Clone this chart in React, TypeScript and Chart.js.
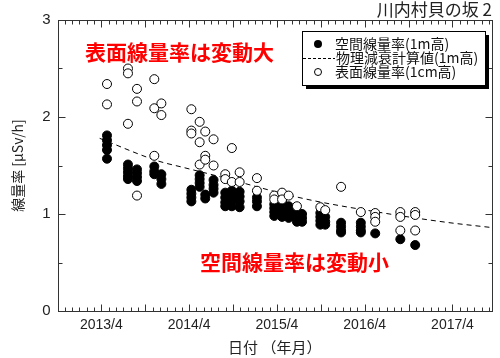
import React, { useEffect, useRef } from 'react';
import { Chart, registerables } from 'chart.js';

Chart.register(...registerables);

// ---- data ----
const airDates = [
  '2013-04-24', '2013-04-24', '2013-04-24', '2013-04-24', '2013-04-24',
  '2013-07-20', '2013-07-20', '2013-07-20', '2013-07-20', '2013-07-20',
  '2013-08-27', '2013-08-27', '2013-08-27', '2013-08-27',
  '2013-11-08', '2013-11-08', '2013-11-08',
  '2013-12-07', '2013-12-07', '2013-12-07',
  '2014-04-10', '2014-04-10', '2014-04-10', '2014-04-10',
  '2014-05-14', '2014-05-14', '2014-05-14', '2014-05-14',
  '2014-06-07', '2014-06-07',
  '2014-07-11', '2014-07-11', '2014-07-11', '2014-07-11',
  '2014-08-29', '2014-08-29', '2014-08-29', '2014-08-29',
  '2014-09-26', '2014-09-26', '2014-09-26', '2014-09-26',
  '2014-10-28', '2014-10-28', '2014-10-28', '2014-10-28',
  '2015-01-09', '2015-01-09', '2015-01-09',
  '2015-03-20', '2015-03-20', '2015-03-20', '2015-03-20',
  '2015-04-22', '2015-04-22', '2015-04-22', '2015-04-22', '2015-04-22',
  '2015-05-19', '2015-05-19', '2015-05-19', '2015-05-19',
  '2015-06-23', '2015-06-23', '2015-06-23', '2015-06-23',
  '2015-07-14', '2015-07-14', '2015-07-14',
  '2015-09-29', '2015-09-29', '2015-09-29', '2015-09-29',
  '2015-10-19', '2015-10-19', '2015-10-19',
  '2015-12-24', '2015-12-24', '2015-12-24', '2015-12-24',
  '2016-03-15', '2016-03-15', '2016-03-15', '2016-03-15',
  '2016-05-14',
  '2016-08-27',
  '2016-10-28',
];
const airValues = [
  1.81, 1.76, 1.71, 1.66, 1.57,
  1.51, 1.47, 1.43, 1.39, 1.36,
  1.46, 1.42, 1.38, 1.34,
  1.49, 1.44, 1.41,
  1.41, 1.36, 1.31,
  1.25, 1.21, 1.17, 1.13,
  1.40, 1.36, 1.32, 1.28,
  1.20, 1.16,
  1.35, 1.30, 1.26, 1.22,
  1.22, 1.17, 1.12, 1.08,
  1.24, 1.19, 1.14, 1.08,
  1.23, 1.18, 1.13, 1.07,
  1.17, 1.13, 1.08,
  1.10, 1.06, 1.02, 0.98,
  1.12, 1.08, 1.04, 1.0, 0.97,
  1.08, 1.04, 1.0, 0.96,
  1.03, 0.99, 0.95, 0.92,
  1.0, 0.96, 0.92,
  1.01, 0.97, 0.93, 0.89,
  0.97, 0.92, 0.89,
  0.91, 0.87, 0.83, 0.81,
  0.91, 0.87, 0.83, 0.81,
  0.8,
  0.74,
  0.68,
];

const surfDates = [
  '2013-04-24', '2013-04-24',
  '2013-07-20', '2013-07-20', '2013-07-20',
  '2013-08-27', '2013-08-27', '2013-08-27',
  '2013-11-08', '2013-11-08', '2013-11-08',
  '2013-12-07', '2013-12-07',
  '2014-04-10', '2014-04-10', '2014-04-10',
  '2014-05-14', '2014-05-14', '2014-05-14',
  '2014-06-07', '2014-06-07', '2014-06-07',
  '2014-07-11', '2014-07-11',
  '2014-08-29', '2014-08-29',
  '2014-09-26', '2014-09-26',
  '2014-10-28', '2014-10-28',
  '2015-01-09', '2015-01-09',
  '2015-03-20', '2015-03-20',
  '2015-04-22', '2015-04-22',
  '2015-05-19',
  '2015-06-23',
  '2015-09-29',
  '2015-10-19',
  '2015-12-24',
  '2016-03-15',
  '2016-05-14', '2016-05-14', '2016-05-14',
  '2016-08-27', '2016-08-27', '2016-08-27',
  '2016-10-28', '2016-10-28', '2016-10-28',
];
const surfValues = [
  2.34, 2.13,
  2.5, 2.45, 1.93,
  2.29, 2.16, 1.19,
  2.39, 2.09, 1.6,
  2.14, 2.02,
  2.08, 1.86, 1.83,
  1.95, 1.74, 1.51,
  1.85, 1.6, 1.56,
  1.77, 1.5,
  1.41, 1.36,
  1.68, 1.33,
  1.43, 1.33,
  1.37, 1.24,
  1.19, 1.15,
  1.22, 1.15,
  1.19,
  1.08,
  1.07,
  1.04,
  1.28,
  1.02,
  1.01, 0.97, 0.92,
  1.02, 0.97, 0.83,
  1.02, 0.99, 0.83,
];

const decayDates = [
  '2013-03-24', '2013-11-19', '2014-03-07', '2014-06-28',
  '2015-07-19', '2016-06-04', '2017-03-07', '2017-09-13',
];
const decayValues = [1.78, 1.55, 1.48, 1.41, 1.16, 1.016, 0.914, 0.86];

const xTickDates = ['2013-04-01', '2014-04-01', '2015-04-01', '2016-04-01', '2017-04-01'];
const xTickLabels = ['2013/4', '2014/4', '2015/4', '2016/4', '2017/4'];
const yTicks = [0, 1, 2, 3];

const seriesLabels = ['空間線量率(1m高)', '物理減衰計算値(1m高)', '表面線量率(1cm高)'];
const titleText = '川内村貝の坂 2';
const noteTop = '表面線量率は変動大';
const noteBottom = '空間線量率は変動小';

// months since 2012-01-01
const toMonth = (s: string) => {
  const [y, m, d] = s.split('-').map(Number);
  return (y - 2012) * 12 + (m - 1) + (d - 1) / 30;
};

const CJK = '"Noto Sans CJK JP", "Noto Sans", sans-serif';
const LAT = '"Liberation Sans", Arial, sans-serif';

const frameTicks = {
  id: 'frameTicks',
  afterDraw(chart: any) {
    const { ctx, chartArea, scales } = chart;
    const x = scales.x, y = scales.y;
    const L = Math.round(chartArea.left) + 0.5;
    const R = Math.round(chartArea.right) + 0.5;
    const T = Math.round(chartArea.top) + 0.5;
    const B = Math.round(chartArea.bottom) + 0.5;
    ctx.save();
    ctx.strokeStyle = '#333';
    ctx.lineWidth = 1;
    ctx.strokeRect(L, T, R - L, B - T);
    ctx.beginPath();
    for (let m = Math.ceil(x.min); m <= x.max; m++) {
      const px = Math.round(x.getPixelForValue(m)) + 0.5;
      const len = m % 6 === 3 ? 7 : 4;
      ctx.moveTo(px, B); ctx.lineTo(px, B - len);
      ctx.moveTo(px, T); ctx.lineTo(px, T + len);
    }
    for (let v = 0; v <= 3; v += 0.5) {
      const py = Math.round(y.getPixelForValue(v)) + 0.5;
      const len = Number.isInteger(v) ? 7 : 4;
      ctx.moveTo(L, py); ctx.lineTo(L + len, py);
      ctx.moveTo(R, py); ctx.lineTo(R - len, py);
    }
    ctx.stroke();
    ctx.restore();
  },
};

const decorations = {
  id: 'decorations',
  afterDraw(chart: any) {
    const { ctx } = chart;
    ctx.save();
    // title
    ctx.fillStyle = '#222';
    ctx.font = `17px ${CJK}`;
    ctx.textAlign = 'right';
    ctx.textBaseline = 'middle';
    ctx.fillText(titleText, 492, 10);
    // red notes
    ctx.fillStyle = '#ff0000';
    ctx.font = `bold 21px ${CJK}`;
    ctx.textAlign = 'left';
    ctx.fillText(noteTop, 85, 52);
    ctx.fillText(noteBottom, 200, 262);
    // legend
    const lx = 302, ly = 31, lw = 183, lh = 54;
    ctx.fillStyle = '#000';
    ctx.fillRect(lx + 4, ly + 4, lw, lh);
    ctx.fillStyle = '#fff';
    ctx.fillRect(lx, ly, lw, lh);
    ctx.strokeStyle = '#000';
    ctx.lineWidth = 1;
    ctx.strokeRect(lx + 0.5, ly + 0.5, lw, lh);
    ctx.font = `14px ${CJK}`;
    const rows = [44, 58, 72];
    ctx.beginPath();
    ctx.arc(318, rows[0], 4, 0, Math.PI * 2);
    ctx.fillStyle = '#000';
    ctx.fill();
    ctx.beginPath();
    ctx.setLineDash([3, 2]);
    ctx.moveTo(303, rows[1] + 0.5);
    ctx.lineTo(335, rows[1] + 0.5);
    ctx.stroke();
    ctx.setLineDash([]);
    ctx.beginPath();
    ctx.arc(318, rows[2], 3.5, 0, Math.PI * 2);
    ctx.fillStyle = '#fff';
    ctx.fill();
    ctx.stroke();
    ctx.fillStyle = '#111';
    ctx.fillText(seriesLabels[0], 335, rows[0]);
    ctx.fillText(seriesLabels[1], 336, rows[1]);
    ctx.fillText(seriesLabels[2], 335, rows[2]);
    ctx.restore();
  },
};

export default function App() {
  const ref = useRef<HTMLCanvasElement>(null);
  useEffect(() => {
    if (!ref.current) return;
    const air = airDates.map((d, i) => ({ x: toMonth(d), y: airValues[i] }));
    const surf = surfDates.map((d, i) => ({ x: toMonth(d), y: surfValues[i] }));
    const decay = decayDates.map((d, i) => ({ x: toMonth(d), y: decayValues[i] }));
    const tickMonths = xTickDates.map(toMonth);
    const chart = new Chart(ref.current, {
      type: 'scatter',
      data: {
        datasets: [
          {
            label: seriesLabels[2], data: surf, order: 0,
            pointRadius: 4.5, pointBackgroundColor: '#fff', pointBorderColor: '#000', pointBorderWidth: 1,
          },
          {
            label: seriesLabels[0], data: air, order: 1,
            pointRadius: 4.5, pointBackgroundColor: '#000', pointBorderColor: '#000', pointBorderWidth: 1,
          },
          {
            label: seriesLabels[1], data: decay, order: 2, showLine: true,
            pointRadius: 0, borderColor: '#000', borderWidth: 1, borderDash: [5, 4],
            cubicInterpolationMode: 'monotone', fill: false,
          } as any,
        ],
      },
      options: {
        animation: false,
        responsive: false,
        devicePixelRatio: 1,
        layout: { padding: { top: 20, right: 8, left: 0, bottom: 0 } },
        plugins: { legend: { display: false }, tooltip: { enabled: false } },
        scales: {
          x: {
            type: 'linear', min: 9, max: 68.4,
            grid: { display: false, drawTicks: false },
            border: { display: false },
            afterBuildTicks: (s: any) => { s.ticks = tickMonths.map((v) => ({ value: v })); },
            afterFit: (s: any) => { s.height = 47; },
            ticks: {
              autoSkip: false, maxRotation: 0, padding: 6, color: '#222',
              font: { family: LAT, size: 14 },
              callback: (v: any) => {
                const i = tickMonths.findIndex((t) => Math.abs(t - v) < 0.01);
                return i >= 0 ? xTickLabels[i] : '';
              },
            },
            title: {
              display: true, text: '日付 （年月）', color: '#222',
              font: { family: CJK, size: 15 }, padding: { top: 0, bottom: 2 },
            },
          },
          y: {
            type: 'linear', min: 0, max: 3,
            grid: { display: false, drawTicks: false },
            border: { display: false },
            afterBuildTicks: (s: any) => { s.ticks = yTicks.map((v) => ({ value: v })); },
            afterFit: (s: any) => { s.width = 57.5; },
            ticks: { padding: 7, color: '#222', font: { family: LAT, size: 15 } },
            title: {
              display: true, text: '線量率 [μSv/h]', color: '#222',
              font: { family: CJK, size: 14 }, padding: { top: 9, bottom: 0 },
            },
          },
        },
      },
      plugins: [frameTicks, decorations],
    });
    return () => chart.destroy();
  }, []);
  return (
    <div style={{ position: 'fixed', left: 0, top: 0, width: 500, height: 358, background: '#fff' }}>
      <canvas ref={ref} width={500} height={358} style={{ width: 500, height: 358 }} />
    </div>
  );
}
